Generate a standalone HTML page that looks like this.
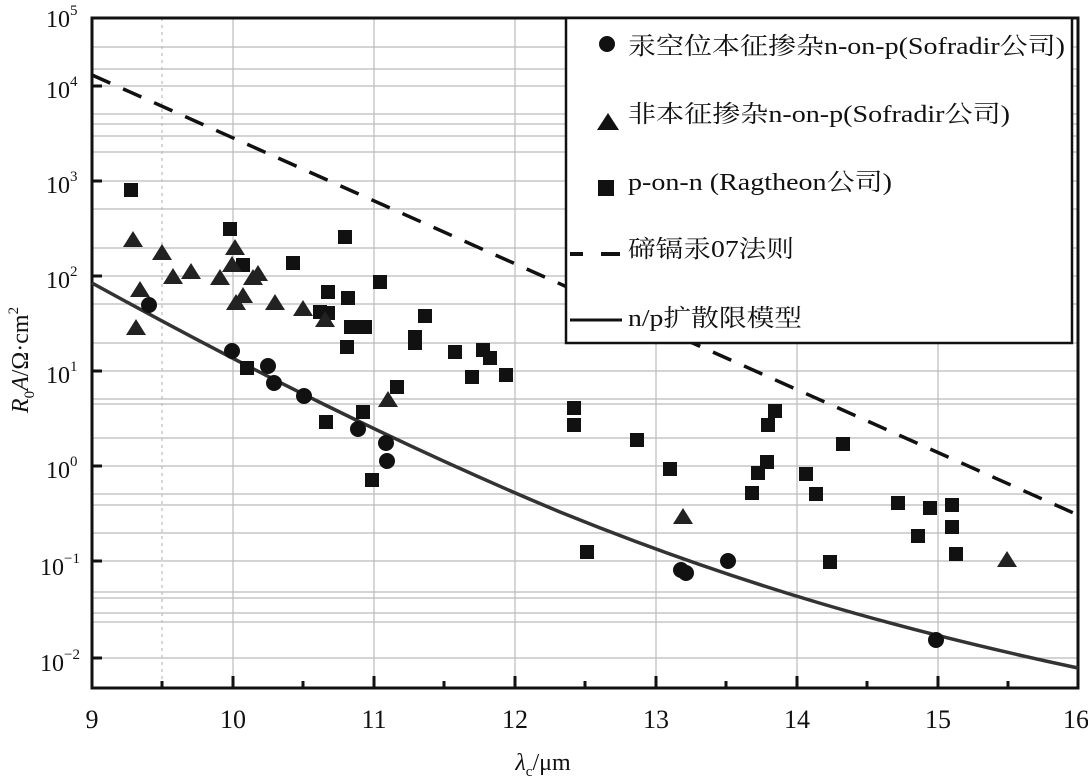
<!DOCTYPE html>
<html><head><meta charset="utf-8"><style>
body{margin:0;background:#fff}
svg{display:block}
text{font-family:"Liberation Serif","Noto Serif CJK SC",serif;fill:#111}
</style></head><body>
<svg width="1088" height="776" viewBox="0 0 1088 776" xmlns="http://www.w3.org/2000/svg">
<g stroke="#bbb" stroke-width="1.2">
<line x1="233" y1="18" x2="233" y2="688"/><line x1="374" y1="18" x2="374" y2="688"/>
<line x1="515" y1="18" x2="515" y2="688"/><line x1="656" y1="18" x2="656" y2="688"/>
<line x1="797" y1="18" x2="797" y2="688"/><line x1="938" y1="18" x2="938" y2="688"/>
<line x1="162" y1="18" x2="162" y2="688" stroke-dasharray="3 4"/>
<line x1="92" y1="86" x2="1078" y2="86"/><line x1="92" y1="181" x2="1078" y2="181"/>
<line x1="92" y1="276" x2="1078" y2="276"/><line x1="92" y1="371" x2="1078" y2="371"/>
<line x1="92" y1="466" x2="1078" y2="466"/><line x1="92" y1="561" x2="1078" y2="561"/>
<line x1="92" y1="658" x2="1078" y2="658"/>
<line x1="92" y1="47" x2="1078" y2="47"/><line x1="92" y1="69" x2="1078" y2="69"/>
<line x1="92" y1="114" x2="1078" y2="114"/><line x1="92" y1="124" x2="1078" y2="124"/><line x1="92" y1="136" x2="1078" y2="136"/><line x1="92" y1="152" x2="1078" y2="152"/>
<line x1="92" y1="209" x2="1078" y2="209"/><line x1="92" y1="248" x2="1078" y2="248"/>
<line x1="92" y1="304" x2="1078" y2="304"/><line x1="92" y1="343" x2="1078" y2="343"/>
<line x1="92" y1="399" x2="1078" y2="399"/><line x1="92" y1="404" x2="1078" y2="404"/><line x1="92" y1="438" x2="1078" y2="438"/>
<line x1="92" y1="494" x2="1078" y2="494"/><line x1="92" y1="505" x2="1078" y2="505"/><line x1="92" y1="533" x2="1078" y2="533"/>
<line x1="92" y1="592" x2="1078" y2="592"/><line x1="92" y1="598" x2="1078" y2="598"/><line x1="92" y1="613" x2="1078" y2="613"/><line x1="92" y1="622" x2="1078" y2="622"/>
</g>
<g stroke="#111" stroke-width="3">
<line x1="92" y1="86" x2="102" y2="86"/><line x1="92" y1="181" x2="102" y2="181"/><line x1="92" y1="276" x2="102" y2="276"/>
<line x1="92" y1="371" x2="102" y2="371"/><line x1="92" y1="466" x2="102" y2="466"/><line x1="92" y1="561" x2="102" y2="561"/><line x1="92" y1="658" x2="102" y2="658"/>
<line x1="233" y1="688" x2="233" y2="676"/><line x1="374" y1="688" x2="374" y2="676"/><line x1="515" y1="688" x2="515" y2="676"/>
<line x1="656" y1="688" x2="656" y2="676"/><line x1="797" y1="688" x2="797" y2="676"/><line x1="938" y1="688" x2="938" y2="676"/>
<line x1="162" y1="688" x2="162" y2="681"/><line x1="303" y1="688" x2="303" y2="681"/><line x1="444" y1="688" x2="444" y2="681"/>
<line x1="585" y1="688" x2="585" y2="681"/><line x1="726" y1="688" x2="726" y2="681"/><line x1="867" y1="688" x2="867" y2="681"/><line x1="1008" y1="688" x2="1008" y2="681"/>
</g>
<rect x="92" y="18" width="986" height="670" fill="none" stroke="#111" stroke-width="3"/>
<line x1="92" y1="75" x2="1078" y2="515" stroke="#111" stroke-width="3.5" stroke-dasharray="20 14"/>
<path d="M92 283 C250 370 400 445 560 512 C740 585 900 630 1078 668" fill="none" stroke="#333" stroke-width="3.5"/>
<g fill="#111">
<rect x="124" y="183" width="14" height="14"/><rect x="223" y="222" width="14" height="14"/><rect x="236" y="258" width="14" height="14"/><rect x="286" y="256" width="14" height="14"/><rect x="240" y="361" width="14" height="14"/><rect x="313" y="305" width="14" height="14"/><rect x="321" y="285" width="14" height="14"/><rect x="321" y="306" width="14" height="14"/><rect x="319" y="415" width="14" height="14"/><rect x="373" y="275" width="14" height="14"/><rect x="340" y="340" width="14" height="14"/><rect x="344" y="320" width="14" height="14"/><rect x="341" y="291" width="14" height="14"/><rect x="358" y="320" width="14" height="14"/><rect x="365" y="473" width="14" height="14"/><rect x="356" y="405" width="14" height="14"/><rect x="390" y="380" width="14" height="14"/><rect x="408" y="330" width="14" height="14"/><rect x="408" y="336" width="14" height="14"/><rect x="418" y="309" width="14" height="14"/><rect x="448" y="345" width="14" height="14"/><rect x="465" y="370" width="14" height="14"/><rect x="476" y="343" width="14" height="14"/><rect x="483" y="351" width="14" height="14"/><rect x="499" y="368" width="14" height="14"/><rect x="567" y="401" width="14" height="14"/><rect x="567" y="418" width="14" height="14"/><rect x="580" y="545" width="14" height="14"/><rect x="630" y="433" width="14" height="14"/><rect x="663" y="462" width="14" height="14"/><rect x="745" y="486" width="14" height="14"/><rect x="751" y="466" width="14" height="14"/><rect x="760" y="455" width="14" height="14"/><rect x="761" y="418" width="14" height="14"/><rect x="768" y="404" width="14" height="14"/><rect x="799" y="467" width="14" height="14"/><rect x="809" y="487" width="14" height="14"/><rect x="823" y="555" width="14" height="14"/><rect x="891" y="496" width="14" height="14"/><rect x="911" y="529" width="14" height="14"/><rect x="923" y="501" width="14" height="14"/><rect x="945" y="498" width="14" height="14"/><rect x="945" y="520" width="14" height="14"/><rect x="949" y="547" width="14" height="14"/><rect x="338" y="230" width="14" height="14"/><rect x="836" y="437" width="14" height="14"/>
</g>
<g fill="#222">
<path d="M133 231l10 16h-20z"/><path d="M140 281l10 16h-20z"/><path d="M136 319l10 16h-20z"/><path d="M162 244l10 16h-20z"/><path d="M173 268l10 16h-20z"/><path d="M191 263l10 16h-20z"/><path d="M220 269l10 16h-20z"/><path d="M232 256l10 16h-20z"/><path d="M235 239l10 16h-20z"/><path d="M236 294l10 16h-20z"/><path d="M243 287l10 16h-20z"/><path d="M253 269l10 16h-20z"/><path d="M258 265l10 16h-20z"/><path d="M275 294l10 16h-20z"/><path d="M303 300l10 16h-20z"/><path d="M325 311l10 16h-20z"/><path d="M388 391l10 16h-20z"/><path d="M683 508l10 16h-20z"/><path d="M1007 551l10 16h-20z"/>
</g>
<g fill="#111">
<circle cx="149" cy="305" r="8"/><circle cx="232" cy="351" r="8"/><circle cx="268" cy="366" r="8"/><circle cx="274" cy="383" r="8"/><circle cx="304" cy="396" r="8"/><circle cx="358" cy="429" r="8"/><circle cx="386" cy="443" r="8"/><circle cx="387" cy="461" r="8"/><circle cx="681" cy="570" r="8"/><circle cx="686" cy="573" r="8"/><circle cx="728" cy="561" r="8"/><circle cx="936" cy="640" r="8"/>
</g>
<rect x="566" y="18" width="506" height="325" fill="#fff" stroke="#111" stroke-width="2.5"/>
<circle cx="607" cy="44" r="8" fill="#111"/>
<path d="M608 113l11 17h-22z" fill="#111"/>
<rect x="598" y="180" width="16" height="16" fill="#111"/>
<line x1="570" y1="254" x2="583" y2="254" stroke="#111" stroke-width="4"/><line x1="601" y1="254" x2="620" y2="254" stroke="#111" stroke-width="4"/>
<line x1="570" y1="320" x2="622" y2="320" stroke="#111" stroke-width="3"/>
<g font-size="24">
<text x="628" y="54" textLength="437" lengthAdjust="spacingAndGlyphs">汞空位本征掺杂n-on-p(Sofradir公司)</text>
<text x="628" y="122" textLength="382" lengthAdjust="spacingAndGlyphs">非本征掺杂n-on-p(Sofradir公司)</text>
<text x="628" y="190" textLength="264" lengthAdjust="spacingAndGlyphs">p-on-n (Ragtheon公司)</text>
<text x="628" y="257" textLength="166" lengthAdjust="spacingAndGlyphs">碲镉汞07法则</text>
<text x="628" y="326" textLength="174" lengthAdjust="spacingAndGlyphs">n/p扩散限模型</text>
</g>
<g font-size="24">
<text x="46" y="27">10<tspan font-size="15" dy="-12">5</tspan></text>
<text x="46" y="98">10<tspan font-size="15" dy="-12">4</tspan></text>
<text x="46" y="193">10<tspan font-size="15" dy="-12">3</tspan></text>
<text x="46" y="288">10<tspan font-size="15" dy="-12">2</tspan></text>
<text x="46" y="383">10<tspan font-size="15" dy="-12">1</tspan></text>
<text x="46" y="478">10<tspan font-size="15" dy="-12">0</tspan></text>
<text x="40" y="575">10<tspan font-size="15" dy="-12">−1</tspan></text>
<text x="40" y="671">10<tspan font-size="15" dy="-12">−2</tspan></text>
</g>
<g font-size="26" text-anchor="middle">
<text x="92" y="728">9</text><text x="233" y="728">10</text><text x="374" y="728">11</text><text x="515" y="728">12</text>
<text x="656" y="728">13</text><text x="797" y="728">14</text><text x="938" y="728">15</text><text x="1076" y="728">16</text>
</g>
<text x="543" y="770" font-size="24" text-anchor="middle"><tspan font-style="italic">λ</tspan><tspan font-size="15" dy="6">c</tspan><tspan dy="-6">/μm</tspan></text>
<text transform="translate(28,360) rotate(-90)" font-size="24" text-anchor="middle"><tspan font-style="italic">R</tspan><tspan font-size="15" dy="6">0</tspan><tspan dy="-6" font-style="italic">A</tspan>/Ω·cm<tspan font-size="15" dy="-10">2</tspan></text>
</svg>
</body></html>
